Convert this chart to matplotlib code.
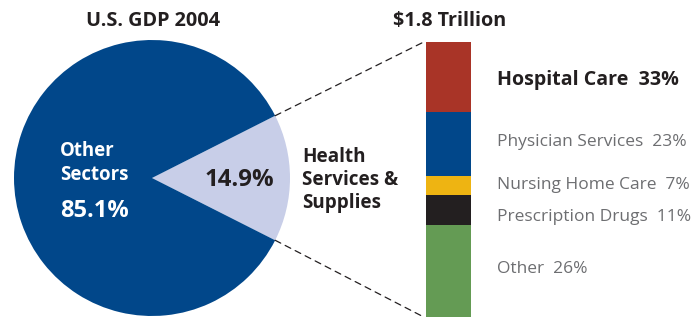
import matplotlib
matplotlib.use("Agg")
import matplotlib.pyplot as plt
import numpy as np
from matplotlib.patches import ConnectionPatch

# data
gdp_labels = ["Health Services & Supplies", "Other Sectors"]
gdp_shares = [14.9, 85.1]

categories = ["Hospital Care", "Physician Services", "Nursing Home Care",
              "Prescription Drugs", "Other"]
shares = [33, 23, 7, 11, 26]                 # printed in the labels
bar_sizes = [25.4, 23.3, 7.0, 10.9, 33.4]    # segment heights as drawn

seg_colors = ["#a93427", "#01478a", "#eeb412", "#231f20", "#649b54"]
DARK = "#231f20"
GREY = "#6d6e71"
NAVY = "#01478a"
LIGHT = "#c8cee8"

plt.rcParams['font.family'] = ['Open Sans', 'DejaVu Sans']

W, H = 700, 318
fig = plt.figure(figsize=(W / 100, H / 100), dpi=100)


def px(x, y):
    return x / W, 1 - y / H


# pie: centre (152,178), radius 138 px
cx, cy, r = 152, 178, 138
ax_pie = fig.add_axes([(cx - r) / W, (H - cy - r) / H, 2 * r / W, 2 * r / H])
half = gdp_shares[0] / 100 * 360 / 2
ax_pie.pie(gdp_shares, colors=[LIGHT, NAVY], startangle=-half,
           counterclock=True, radius=1, center=(0, 0))
ax_pie.set_xlim(-1, 1)
ax_pie.set_ylim(-1, 1)
ax_pie.set_aspect('auto')
ax_pie.axis('off')

# stacked bar: x 426..471, y 42..317 px
bx0, bx1, by0, by1 = 426, 471, 42, 317
ax_bar = fig.add_axes([bx0 / W, (H - by1) / H, (bx1 - bx0) / W, (by1 - by0) / H])
bottom = 0
for size, col in zip(bar_sizes, seg_colors):
    ax_bar.bar(0, size, bottom=bottom, width=1, color=col, linewidth=0)
    bottom += size
ax_bar.set_xlim(-0.5, 0.5)
ax_bar.set_ylim(sum(bar_sizes), 0)
ax_bar.axis('off')

# dashed connectors from slice edge to bar corners
a = np.deg2rad(half)
for sgn, yb in [(1, 0), (-1, sum(bar_sizes))]:
    con = ConnectionPatch(xyA=(np.cos(a), sgn * np.sin(a)), coordsA=ax_pie.transData,
                          xyB=(-0.55, yb), coordsB=ax_bar.transData,
                          linestyle=(0, (5, 4)), color=DARK, linewidth=0.9)
    fig.add_artist(con)

# titles
fig.text(*px(153, 21), "U.S. GDP 2004", ha='center', va='center',
         fontsize=14.3, fontweight='bold', color=DARK)
fig.text(*px(450, 21), "$1.8 Trillion", ha='center', va='center',
         fontsize=14.2, fontweight='bold', color=DARK)

# pie labels
fig.text(*px(60, 163), "Other\nSectors", ha='left', va='center', fontsize=13.4,
         fontweight='bold', color='white', linespacing=1.2)
fig.text(*px(60, 211), f"{gdp_shares[1]}%", ha='left', va='center', fontsize=17,
         fontweight='bold', color='white')
fig.text(*px(239, 180), f"{gdp_shares[0]}%", ha='center', va='center', fontsize=17.3,
         fontweight='bold', color=DARK)
fig.text(*px(302, 180), "Health\nServices &\nSupplies", ha='left', va='center',
         fontsize=13.6, fontweight='bold', color=DARK, linespacing=1.22)

# bar labels
label_y = [80, 142, 185, 217, 269]
for i, (cat, s, yy) in enumerate(zip(categories, shares, label_y)):
    if i == 0:
        fig.text(*px(497, yy), f"{cat}  {s}%", ha='left', va='center',
                 fontsize=14.1, fontweight='bold', color=DARK)
    else:
        fig.text(*px(497, yy), f"{cat}  {s}%", ha='left', va='center',
                 fontsize=12.5, color=GREY)

fig.savefig("out.png", dpi=100)
